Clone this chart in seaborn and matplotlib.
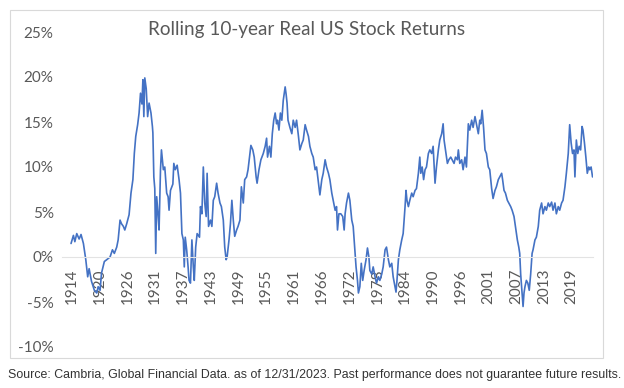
import numpy as np
import pandas as pd
import matplotlib
matplotlib.use("Agg")
import matplotlib.pyplot as plt
from matplotlib.patches import Rectangle
import seaborn as sns

title = "Rolling 10-year Real US Stock Returns"
source = ("Source: Cambria, Global Financial Data. as of 12/31/2023. "
          "Past performance does not guarantee future results.")

xtick_labels = ["1914", "1920", "1926", "1931", "1937", "1943", "1949", "1955",
                "1961", "1966", "1972", "1978", "1984", "1990", "1996", "2001",
                "2007", "2013", "2019"]
ytick_values = [-10, -5, 0, 5, 10, 15, 20, 25]

years = [
    1914.1, 1914.6, 1914.9, 1915.3, 1915.8, 1916.2, 1916.7, 1917.2, 1917.6, 1917.9,
    1918.4, 1919.0, 1919.5, 1919.8, 1920.2, 1920.5, 1921.1, 1921.6, 1922.3, 1922.8,
    1923.2, 1923.7, 1924.0, 1924.4, 1924.7, 1925.1, 1925.4, 1925.8, 1926.3, 1926.7,
    1927.1, 1927.4, 1927.7, 1928.1, 1928.4, 1928.7, 1929.0, 1929.2, 1929.4, 1929.6,
    1929.9, 1930.2, 1930.5, 1930.9, 1931.2, 1931.3, 1931.5, 1931.7, 1931.9, 1932.1,
    1932.4, 1932.6, 1932.9, 1933.1, 1933.5, 1933.8, 1934.2, 1934.5, 1934.7, 1935.0,
    1935.5, 1935.7, 1936.0, 1936.4, 1936.8, 1937.1, 1937.4, 1937.7, 1937.9, 1938.1,
    1938.4, 1938.7, 1938.9, 1939.2, 1939.5, 1939.8, 1940.0, 1940.3, 1940.6, 1941.1,
    1941.3, 1941.6, 1941.9, 1942.2, 1942.5, 1942.7, 1943.0, 1943.4, 1943.7, 1944.0,
    1944.3, 1944.7, 1945.0, 1945.4, 1945.7, 1946.1, 1946.4, 1946.7, 1946.9, 1947.3,
    1947.6, 1947.9, 1948.2, 1948.5, 1948.9, 1949.2, 1949.6, 1949.9, 1950.3, 1950.6,
    1951.0, 1951.3, 1951.7, 1951.9, 1952.3, 1952.6, 1953.0, 1953.2, 1953.6, 1954.0,
    1954.5, 1954.9, 1955.2, 1955.4, 1955.8, 1956.1, 1956.4, 1956.7, 1957.0, 1957.3,
    1957.5, 1957.8, 1958.1, 1958.4, 1958.7, 1959.1, 1959.3, 1959.5, 1959.7, 1960.1,
    1960.5, 1960.8, 1961.2, 1961.5, 1961.9, 1962.2, 1962.6, 1962.9, 1963.3, 1963.6,
    1964.0, 1964.3, 1964.7, 1965.0, 1965.4, 1965.7, 1966.1, 1966.4, 1966.8, 1967.1,
    1967.5, 1967.8, 1968.2, 1968.5, 1968.9, 1969.2, 1969.6, 1969.9, 1970.1, 1970.4,
    1970.8, 1971.2, 1971.5, 1971.7, 1972.0, 1972.4, 1972.7, 1973.1, 1973.4, 1973.7,
    1974.0, 1974.3, 1974.5, 1974.8, 1975.1, 1975.4, 1975.7, 1976.1, 1976.4, 1976.7,
    1976.9, 1977.3, 1977.6, 1978.0, 1978.3, 1978.7, 1979.0, 1979.4, 1979.7, 1980.1,
    1980.4, 1980.8, 1981.1, 1981.5, 1981.8, 1982.2, 1982.4, 1982.6, 1982.9, 1983.2,
    1983.6, 1983.9, 1984.3, 1984.5, 1984.7, 1985.0, 1985.3, 1985.7, 1986.0, 1986.4,
    1986.7, 1987.1, 1987.4, 1987.6, 1987.9, 1988.2, 1988.5, 1988.8, 1989.2, 1989.5,
    1989.9, 1990.2, 1990.6, 1990.9, 1991.3, 1991.6, 1992.0, 1992.3, 1992.5, 1992.8,
    1993.2, 1993.5, 1993.9, 1994.2, 1994.6, 1994.9, 1995.3, 1995.5, 1995.8, 1996.2,
    1996.5, 1996.9, 1997.2, 1997.6, 1997.9, 1998.3, 1998.6, 1999.0, 1999.3, 1999.7,
    2000.0, 2000.2, 2000.5, 2000.8, 2001.1, 2001.4, 2001.8, 2002.1, 2002.5, 2002.8,
    2003.2, 2003.5, 2003.9, 2004.2, 2004.6, 2004.8, 2005.1, 2005.4, 2005.8, 2006.1,
    2006.5, 2006.8, 2007.2, 2007.5, 2007.9, 2008.2, 2008.4, 2008.6, 2008.9, 2009.1,
    2009.3, 2009.5, 2009.8, 2010.1, 2010.4, 2010.7, 2011.0, 2011.2, 2011.6, 2011.9,
    2012.3, 2012.6, 2013.0, 2013.3, 2013.7, 2014.0, 2014.4, 2014.7, 2015.1, 2015.4,
    2015.8, 2016.1, 2016.5, 2016.8, 2017.2, 2017.5, 2017.9, 2018.2, 2018.6, 2018.9,
    2019.2, 2019.5, 2019.8, 2020.0, 2020.3, 2020.6, 2020.9, 2021.2, 2021.5, 2021.7,
    2022.0, 2022.3, 2022.6, 2022.9, 2023.1, 2023.4, 2023.7,
]

real_returns = [
    1.5, 2.4, 1.7, 2.6, 2.0, 2.5, 1.5, -0.3, -2.2, -1.3,
    -2.7, -3.7, -4.0, -3.3, -3.7, -1.8, -0.5, -0.3, 0.0, 0.8,
    0.4, 1.1, 1.9, 4.1, 3.7, 3.4, 3.0, 3.7, 4.7, 7.1,
    8.6, 11.5, 13.4, 14.7, 16.0, 18.2, 17.0, 19.7, 15.6, 19.9,
    18.7, 15.6, 17.1, 16.0, 14.5, 13.8, 8.9, 7.6, 0.4, 6.7,
    4.6, 3.0, 9.7, 11.9, 9.7, 10.0, 7.1, 6.7, 5.2, 7.4,
    8.1, 10.4, 9.7, 10.2, 8.6, 7.1, 2.6, 1.9, -1.1, 2.2,
    0.8, -1.1, -2.6, -2.9, 1.9, -1.1, -2.6, 1.1, 2.6, 2.2,
    5.6, 4.8, 10.0, 6.0, 4.5, 9.3, 3.4, 4.1, 3.4, 6.3,
    6.7, 8.2, 7.1, 6.0, 5.6, 4.1, 1.1, -0.3, 0.0, 1.9,
    3.7, 6.3, 4.1, 2.3, 3.0, 3.4, 4.1, 7.8, 6.0, 8.6,
    8.9, 9.7, 11.5, 12.4, 11.9, 11.1, 8.9, 8.2, 9.7, 10.8,
    11.5, 12.3, 13.2, 11.1, 12.3, 11.1, 13.7, 15.2, 16.0, 14.8,
    15.2, 14.1, 16.0, 15.2, 17.4, 18.9, 18.1, 17.1, 15.2, 14.4,
    13.7, 15.2, 14.4, 15.2, 13.4, 11.9, 12.6, 13.0, 14.7, 14.1,
    13.4, 12.3, 11.5, 11.1, 9.7, 10.0, 8.2, 6.9, 8.6, 9.3,
    10.8, 10.0, 9.3, 8.6, 7.1, 6.3, 5.2, 5.6, 3.0, 4.8,
    4.8, 4.5, 3.0, 4.8, 6.0, 7.1, 6.3, 4.1, 3.4, 1.1,
    -1.1, -2.6, -4.0, -3.3, -0.7, -2.6, -1.5, -0.3, 1.0, 0.0,
    -1.5, -1.9, -1.1, -2.2, -2.9, -2.2, -2.6, -1.9, -1.1, 0.8,
    1.1, -0.3, -1.1, -0.7, -2.2, -3.3, -3.9, -2.6, -0.3, 0.8,
    1.9, 2.6, 5.6, 7.4, 6.3, 5.6, 6.3, 7.1, 6.7, 7.4,
    7.6, 9.3, 11.1, 9.3, 10.0, 8.6, 9.7, 10.0, 11.5, 11.9,
    11.5, 12.3, 8.2, 10.0, 11.9, 13.0, 13.7, 14.8, 13.0, 11.9,
    10.4, 10.8, 11.1, 10.8, 10.4, 11.1, 10.8, 11.9, 10.4, 10.8,
    9.7, 11.1, 10.0, 14.8, 14.1, 15.2, 14.4, 15.6, 14.8, 13.7,
    15.2, 14.8, 16.3, 14.4, 11.9, 11.5, 10.0, 9.7, 7.6, 6.5,
    7.4, 7.8, 8.6, 8.9, 9.3, 8.6, 7.4, 7.1, 6.3, 6.0,
    5.6, 5.2, 4.5, 3.4, 1.9, 1.1, 0.4, -1.9, -4.0, -5.5,
    -4.0, -3.3, -2.6, -2.9, -3.7, -1.9, 0.4, 0.8, 1.9, 2.2,
    3.4, 5.2, 6.0, 4.8, 5.6, 5.2, 6.0, 5.6, 6.1, 5.2,
    6.0, 4.8, 5.6, 5.2, 6.0, 6.3, 7.8, 9.3, 11.5, 14.7,
    12.7, 11.5, 11.9, 8.9, 13.0, 11.5, 12.3, 11.9, 14.5, 14.1,
    12.7, 11.1, 9.3, 10.0, 9.7, 10.0, 8.9,
]

assert len(years) == len(real_returns)

sns.set_theme(style="white")
plt.rcParams["font.family"] = ["Lato", "DejaVu Sans"]

W, H = 624, 388
fig = plt.figure(figsize=(W / 100, H / 100), dpi=100)
fig.patch.set_facecolor("white")

# chart frame
fig.add_artist(Rectangle((10 / W, 1 - 358 / H), 593 / W, 348 / H,
                         transform=fig.transFigure, fill=False,
                         edgecolor="#d9d9d9", linewidth=0.8))

ax = fig.add_axes([62 / W, 1 - 347 / H, (593 - 62) / W, 315 / H])
ax.set_facecolor("none")

df = pd.DataFrame({"year": years, "ret": real_returns})
sns.lineplot(data=df, x="year", y="ret", ax=ax, color="#4472C4",
             linewidth=1.2, estimator=None, sort=False)

ax.set_xlim(1912.2, 2023.8)
ax.set_ylim(-10, 25)
ax.set_yticks(ytick_values)
ax.set_yticklabels([f"{v}%" for v in ytick_values])
tick_pos = 1914.3 + np.arange(len(xtick_labels)) * 70 / 12
ax.set_xticks(tick_pos)
ax.set_xticklabels(xtick_labels)
ax.set_xlabel("")
ax.set_ylabel("")
ax.grid(False)
for s in ["top", "right", "left"]:
    ax.spines[s].set_visible(False)
ax.spines["bottom"].set_position(("data", 0))
ax.spines["bottom"].set_color("#e3e3e3")
ax.spines["bottom"].set_linewidth(0.8)
ax.tick_params(axis="both", length=0, colors="#595959", labelsize=11)
ax.tick_params(axis="x", pad=8, labelrotation=90)
ax.tick_params(axis="y", pad=6)

fig.text(307 / W, 1 - 29 / H, title, ha="center", va="center",
         fontsize=13.6, color="#595959")
fig.text(8 / W, 1 - 375 / H, source, ha="left", va="center", fontsize=8.9,
         color="#333333",
         family=["Liberation Sans", "DejaVu Sans"])

fig.savefig("out.png", dpi=100)
